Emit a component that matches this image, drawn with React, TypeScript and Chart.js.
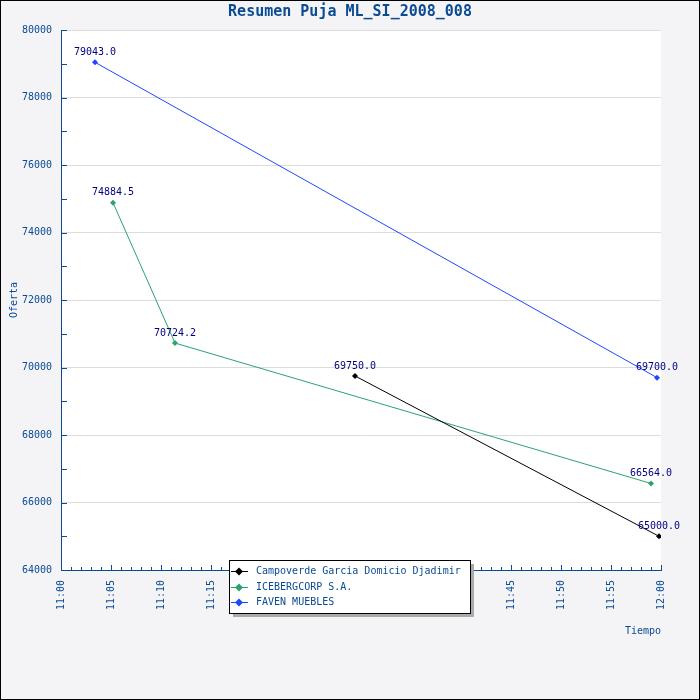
import React, { useEffect, useRef } from 'react';
import Chart from 'chart.js/auto';

const chartTitle = 'Resumen Puja ML_SI_2008_008';
const yTitle = 'Oferta';
const xTitle = 'Tiempo';

const seriesNames = ['Campoverde Garcia Domicio Djadimir', 'ICEBERGCORP S.A.', 'FAVEN MUEBLES'];
const seriesColors = ['#000000', '#2ca36c', '#1f47ff'];

// minutes after 11:00
const campoverdeTimes = [29.4, 59.8];
const campoverdeBids = [69750.0, 65000.0];
const icebergTimes = [5.2, 11.4, 59.0];
const icebergBids = [74884.5, 70724.2, 66564.0];
const favenTimes = [3.4, 59.6];
const favenBids = [79043.0, 69700.0];

const yMin = 64000;
const yMax = 80000;
const yLabelStep = 2000;
const yMinorStep = 1000;
const xMin = 0;
const xMax = 60;
const xLabelStep = 5;
const xMinorStep = 1;

const AXIS = '#0a4b94';
const MONO = "'DejaVu Sans Mono', monospace";

const fmtTime = (m: number) => {
  const h = 11 + Math.floor(m / 60);
  const mm = Math.round(m % 60);
  return `${h}:${mm < 10 ? '0' + mm : mm}`;
};

const pairs = (xs: number[], ys: number[]) => xs.map((x, i) => ({ x, y: ys[i] }));

const decorPlugin = {
  id: 'decor',
  beforeDraw(chart: any) {
    const { ctx, width, height, chartArea } = chart;
    ctx.save();
    ctx.fillStyle = '#f4f4f6';
    ctx.fillRect(0, 0, width, height);
    ctx.fillStyle = '#ffffff';
    ctx.fillRect(chartArea.left, chartArea.top, chartArea.right - chartArea.left, chartArea.bottom - chartArea.top);
    ctx.strokeStyle = '#000000';
    ctx.lineWidth = 1;
    ctx.strokeRect(0.5, 0.5, width - 1, height - 1);
    ctx.restore();
  },
  afterDatasetsDraw(chart: any) {
    const { ctx } = chart;
    ctx.save();
    ctx.font = `10px ${MONO}`;
    ctx.fillStyle = '#000080';
    ctx.textAlign = 'center';
    ctx.textBaseline = 'middle';
    chart.data.datasets.forEach((ds: any, i: number) => {
      const meta = chart.getDatasetMeta(i);
      meta.data.forEach((pt: any, j: number) => {
        ctx.fillText(ds.data[j].y.toFixed(1), pt.x, pt.y - 10);
      });
    });
    ctx.restore();
  },
  afterDraw(chart: any) {
    const { ctx, chartArea, width } = chart;
    const xs = chart.scales.x;
    const ys = chart.scales.y;
    ctx.save();
    ctx.strokeStyle = AXIS;
    ctx.lineWidth = 1;
    ctx.beginPath();
    for (let m = xMin; m <= xMax; m += xMinorStep) {
      const px = Math.round(xs.getPixelForValue(m)) + 0.5;
      const len = m % xLabelStep === 0 ? 5 : 3;
      ctx.moveTo(px, chartArea.bottom);
      ctx.lineTo(px, chartArea.bottom - len);
    }
    for (let v = yMin; v <= yMax; v += yMinorStep) {
      const py = Math.round(ys.getPixelForValue(v)) + 0.5;
      ctx.moveTo(chartArea.left, py);
      ctx.lineTo(chartArea.left + 6, py);
    }
    ctx.stroke();

    // title
    ctx.font = `bold 15px ${MONO}`;
    ctx.fillStyle = AXIS;
    ctx.textAlign = 'center';
    ctx.textBaseline = 'middle';
    ctx.fillText(chartTitle, width / 2, 12);

    // legend
    const bx = 229, by = 560, bw = 241, bh = 53;
    ctx.fillStyle = '#aaaaaa';
    ctx.fillRect(bx + 4, by + 4, bw, bh);
    ctx.fillStyle = '#ffffff';
    ctx.fillRect(bx, by, bw, bh);
    ctx.strokeStyle = '#000000';
    ctx.strokeRect(bx + 0.5, by + 0.5, bw, bh);
    ctx.font = `10px ${MONO}`;
    ctx.textAlign = 'left';
    chart.data.datasets.forEach((ds: any, i: number) => {
      const ry = by + 11 + i * 15.5;
      const cy = Math.round(ry) + 0.5;
      ctx.strokeStyle = ds.borderColor;
      ctx.beginPath();
      ctx.moveTo(bx + 2, cy);
      ctx.lineTo(bx + 19, cy);
      ctx.stroke();
      ctx.fillStyle = ds.borderColor;
      ctx.beginPath();
      ctx.moveTo(bx + 10, cy - 4);
      ctx.lineTo(bx + 14, cy);
      ctx.lineTo(bx + 10, cy + 4);
      ctx.lineTo(bx + 6, cy);
      ctx.closePath();
      ctx.fill();
      ctx.fillStyle = AXIS;
      ctx.fillText(ds.label, bx + 27, cy);
    });
    ctx.restore();
  },
};

const App: React.FC = () => {
  const canvasRef = useRef<HTMLCanvasElement>(null);
  const chartRef = useRef<any>(null);

  useEffect(() => {
    document.body.style.margin = '0';
    if (chartRef.current) chartRef.current.destroy();
    if (!canvasRef.current) return;

    const seriesData = [
      pairs(campoverdeTimes, campoverdeBids),
      pairs(icebergTimes, icebergBids),
      pairs(favenTimes, favenBids),
    ];

    chartRef.current = new Chart(canvasRef.current, {
      type: 'line',
      data: {
        datasets: seriesNames.map((name, i) => ({
          label: name,
          data: seriesData[i],
          borderColor: seriesColors[i],
          backgroundColor: seriesColors[i],
          borderWidth: 1,
          pointStyle: 'rectRot',
          pointRadius: 3,
          pointBorderWidth: 0,
          tension: 0,
        })),
      },
      options: {
        animation: false,
        responsive: true,
        maintainAspectRatio: false,
        layout: { padding: { top: 30, right: 39, left: 0, bottom: 0 } },
        plugins: {
          legend: { display: false },
          title: { display: false },
          tooltip: { enabled: false },
        },
        scales: {
          x: {
            type: 'linear',
            min: xMin,
            max: xMax,
            afterFit: (s: any) => { s.height = 130; },
            grid: { display: false, drawTicks: false },
            border: { display: true, color: AXIS, width: 1 },
            ticks: {
              stepSize: xLabelStep,
              autoSkip: false,
              minRotation: 90,
              maxRotation: 90,
              padding: 10,
              color: AXIS,
              font: { family: MONO, size: 10 },
              callback: (v: any) => fmtTime(Number(v)),
            },
            title: {
              display: true,
              text: xTitle,
              align: 'end',
              color: AXIS,
              font: { family: MONO, size: 10 },
              padding: { top: 0, bottom: 63 },
            },
          },
          y: {
            min: yMin,
            max: yMax,
            afterFit: (s: any) => { s.width = 61; },
            grid: { color: '#dcdcdc', drawTicks: false },
            border: { display: true, color: AXIS, width: 1 },
            ticks: {
              stepSize: yLabelStep,
              padding: 9,
              color: AXIS,
              font: { family: MONO, size: 10 },
              callback: (v: any) => String(v),
            },
            title: {
              display: true,
              text: yTitle,
              color: AXIS,
              font: { family: MONO, size: 10 },
              padding: { top: 8, bottom: 0 },
            },
          },
        },
      },
      plugins: [decorPlugin],
    } as any);

    return () => {
      if (chartRef.current) {
        chartRef.current.destroy();
        chartRef.current = null;
      }
    };
  }, []);

  return (
    <div style={{ width: 700, height: 700, position: 'relative' }}>
      <canvas ref={canvasRef}></canvas>
    </div>
  );
};

export default App;
